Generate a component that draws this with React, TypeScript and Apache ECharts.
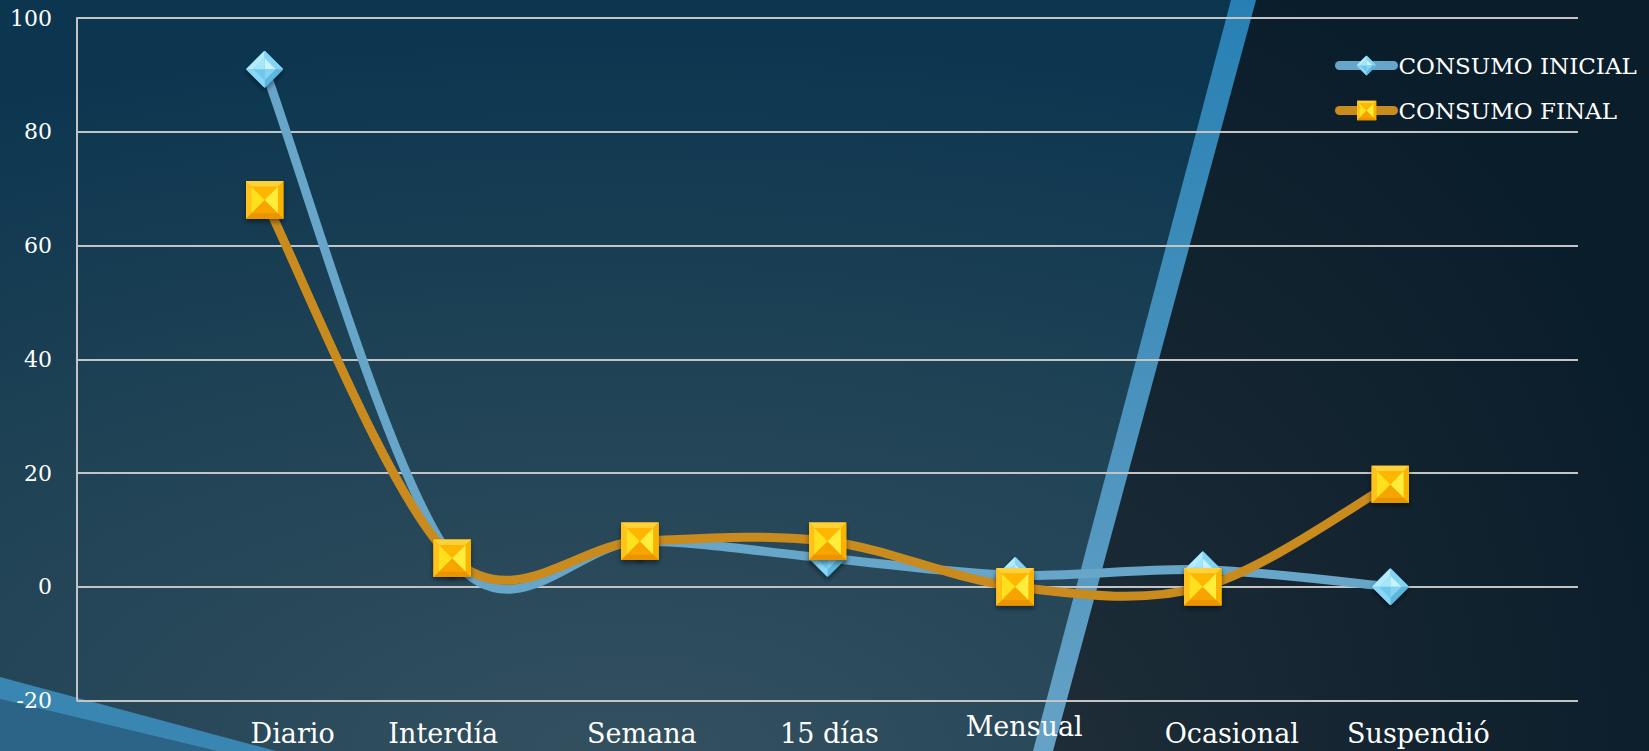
import React, { useEffect, useRef } from "react";
import * as echarts from "echarts";

// ---- data ----
const categories = ["Diario", "Interdía", "Semana", "15 días", "Mensual", "Ocasional", "Suspendió"];
const consumoInicial = [91, 5, 8, 5, 2, 3, 0];
const consumoFinal = [68, 5, 8, 8, 0, 0, 18];
const seriesNames = ["CONSUMO INICIAL", "CONSUMO FINAL"];
const yMin = -20;
const yMax = 100;
const yStep = 20;

// ---- label placement tweaks (style only) ----
const labelShiftX = [28, -9, 2, 2, 9, 29, 28];
const labelRaised = [false, false, false, false, true, false, false];

const W = 1649;
const H = 751;
const FONT = "'DejaVu Serif', 'Liberation Serif', serif";
const BLUE = "#67a5c9";
const ORANGE = "#c98a1e";

const svgUri = (svg: string) => "image://data:image/svg+xml;charset=utf-8," + encodeURIComponent(svg);

const diamondSvg =
  '<svg xmlns="http://www.w3.org/2000/svg" width="40" height="40" viewBox="0 0 40 40">' +
  '<polygon points="20,0 40,20 20,40 0,20" fill="#6cc6ec" stroke="#4aa4cf" stroke-width="1"/>' +
  '<polygon points="0,20 20,0 20,8 8,20" fill="#b4ecfd"/>' +
  '<polygon points="20,0 40,20 32,20 20,8" fill="#86d4f3"/>' +
  '<polygon points="40,20 20,40 20,32 32,20" fill="#5cb6de"/>' +
  '<polygon points="20,40 0,20 8,20 20,32" fill="#8ad6f5"/>' +
  '<polygon points="20,8 32,20 20,20" fill="#c8f3ff"/>' +
  '<polygon points="32,20 20,32 20,20" fill="#86d2f2"/>' +
  '<polygon points="20,32 8,20 20,20" fill="#6ec8ee"/>' +
  '<polygon points="8,20 20,8 20,20" fill="#a6e6fb"/>' +
  "</svg>";

const squareSvg =
  '<svg xmlns="http://www.w3.org/2000/svg" width="40" height="40" viewBox="0 0 40 40">' +
  '<rect x="0" y="0" width="40" height="40" fill="#f5a600"/>' +
  '<polygon points="0,0 40,0 34,6 6,6" fill="#ffd23a"/>' +
  '<polygon points="40,0 40,40 34,34 34,6" fill="#f8b400"/>' +
  '<polygon points="0,40 40,40 34,34 6,34" fill="#e99400"/>' +
  '<polygon points="0,0 6,6 6,34 0,40" fill="#ffc21a"/>' +
  '<polygon points="6,6 34,6 20,20" fill="#ffb600"/>' +
  '<polygon points="6,34 34,34 20,20" fill="#f7a400"/>' +
  '<polygon points="6,6 6,34 20,20" fill="#ffe01c"/>' +
  '<polygon points="34,6 34,34 20,20" fill="#ffec3a"/>' +
  "</svg>";

// Catmull-Rom style smoothed curve drawn through the axis scales
const makeCurve = (name: string, values: number[], color: string) => ({
  type: "custom",
  name,
  coordinateSystem: "cartesian2d",
  silent: true,
  data: values.map((v, i) => [i + 1, v]),
  encode: { x: 0, y: 1 },
  renderItem: (params: any, api: any) => {
    if (params.dataIndex !== 0) return null;
    const pts: number[][] = values.map((v, i) => api.coord([i + 1, v]));
    let d = `M${pts[0][0]},${pts[0][1]}`;
    for (let i = 0; i < pts.length - 1; i++) {
      const p0 = pts[i - 1] || pts[i];
      const p1 = pts[i];
      const p2 = pts[i + 1];
      const p3 = pts[i + 2] || pts[i + 1];
      const c1x = p1[0] + (p2[0] - p0[0]) / 6;
      const c1y = p1[1] + (p2[1] - p0[1]) / 6;
      const c2x = p2[0] - (p3[0] - p1[0]) / 6;
      const c2y = p2[1] - (p3[1] - p1[1]) / 6;
      d += ` C${c1x},${c1y} ${c2x},${c2y} ${p2[0]},${p2[1]}`;
    }
    return {
      type: "path",
      shape: { pathData: d },
      style: { fill: "none", stroke: color, lineWidth: 9, lineCap: "round", lineJoin: "round" },
    };
  },
});

const makeMarkers = (name: string, values: number[], symbol: string, size: number, color: string) => ({
  name,
  type: "line",
  data: [null, ...values, null],
  symbol,
  symbolSize: size,
  lineStyle: { color, width: 9, opacity: 0 },
  itemStyle: {
    color,
    shadowBlur: 5,
    shadowColor: "rgba(0,0,0,0.45)",
    shadowOffsetY: 3,
  },
});

export default function App() {
  const ref = useRef<HTMLDivElement>(null);

  useEffect(() => {
    document.body.style.margin = "0";
    document.body.style.overflow = "hidden";
    if (!ref.current) return;
    const chart = echarts.init(ref.current, undefined, { renderer: "svg", width: W, height: H });

    const axisData = ["", ...categories, ""];

    const rich: Record<string, any> = {};
    categories.forEach((_, i) => {
      const d = labelShiftX[i];
      rich["c" + (i + 1)] = {
        fontFamily: FONT,
        fontSize: 27,
        color: "#ffffff",
        padding: [labelRaised[i] ? 0 : 7, d < 0 ? -2 * d : 0, 0, d > 0 ? 2 * d : 0],
      };
    });

    const option: any = {
      animation: false,
      backgroundColor: "transparent",
      graphic: [
        {
          type: "rect",
          z: -5,
          silent: true,
          shape: { x: 0, y: 0, width: W, height: H },
          style: {
            fill: {
              type: "radial",
              x: 0.38,
              y: 1.0,
              r: 0.95,
              colorStops: [
                { offset: 0, color: "#33505f" },
                { offset: 0.55, color: "#1f4255" },
                { offset: 1, color: "#0c3650" },
              ],
            },
          },
        },
        {
          type: "polygon",
          z: -4,
          silent: true,
          shape: { points: [[1254, 0], [W, 0], [W, H], [1052, H]] },
          style: {
            fill: {
              type: "radial",
              x: 0.0,
              y: 1.0,
              r: 1.1,
              colorStops: [
                { offset: 0, color: "#1e2d38" },
                { offset: 1, color: "#0a1d2a" },
              ],
            },
          },
        },
        {
          type: "polygon",
          z: -3,
          silent: true,
          shape: { points: [[1231, 0], [1256, 0], [1053, H], [1033, H]] },
          style: {
            fill: {
              type: "linear",
              x: 0,
              y: 0,
              x2: 0,
              y2: 1,
              colorStops: [
                { offset: 0, color: "#2780b3" },
                { offset: 1, color: "#66a2c6" },
              ],
            },
          },
        },
        {
          type: "polygon",
          z: -3,
          silent: true,
          shape: { points: [[0, 699], [217, H], [0, H]] },
          style: { fill: "#2b6486" },
        },
        {
          type: "polygon",
          z: -3,
          silent: true,
          shape: { points: [[0, 677], [276, H], [217, H], [0, 699]] },
          style: { fill: "#3a86b2" },
        },
      ],
      grid: { left: 77, right: 71, top: 18, bottom: 50.5, containLabel: false },
      legend: {
        orient: "vertical",
        left: 1335,
        top: 54,
        padding: 0,
        itemWidth: 54,
        itemHeight: 25,
        itemGap: 22,
        textStyle: { fontFamily: FONT, fontSize: 23, color: "#ffffff" },
        data: [
          { name: seriesNames[0], lineStyle: { color: BLUE, width: 9, opacity: 1, cap: "round" } },
          { name: seriesNames[1], lineStyle: { color: ORANGE, width: 9, opacity: 1, cap: "round" } },
        ],
      },
      xAxis: {
        type: "category",
        boundaryGap: false,
        data: axisData,
        axisLine: { show: false },
        axisTick: { show: false },
        splitLine: { show: false },
        axisLabel: {
          interval: 0,
          margin: 12,
          verticalAlign: "top",
          fontFamily: FONT,
          fontSize: 27,
          color: "#ffffff",
          formatter: (v: string, i: number) => (v ? `{c${i}|${v}}` : ""),
          rich,
        },
      },
      yAxis: {
        type: "value",
        min: yMin,
        max: yMax,
        interval: yStep,
        axisLine: { show: true, lineStyle: { color: "#c4c4c4", width: 2 } },
        axisTick: { show: false },
        splitLine: { show: true, lineStyle: { color: "#c4c4c4", width: 2 } },
        axisLabel: { margin: 25, fontFamily: FONT, fontSize: 22, color: "#ffffff" },
      },
      series: [
        makeCurve("curve-inicial", consumoInicial, BLUE),
        makeMarkers(seriesNames[0], consumoInicial, svgUri(diamondSvg), 37, BLUE),
        makeCurve("curve-final", consumoFinal, ORANGE),
        makeMarkers(seriesNames[1], consumoFinal, svgUri(squareSvg), 38, ORANGE),
      ],
    };

    chart.setOption(option);
    return () => chart.dispose();
  }, []);

  return <div ref={ref} style={{ width: W, height: H, position: "absolute", left: 0, top: 0 }} />;
}
